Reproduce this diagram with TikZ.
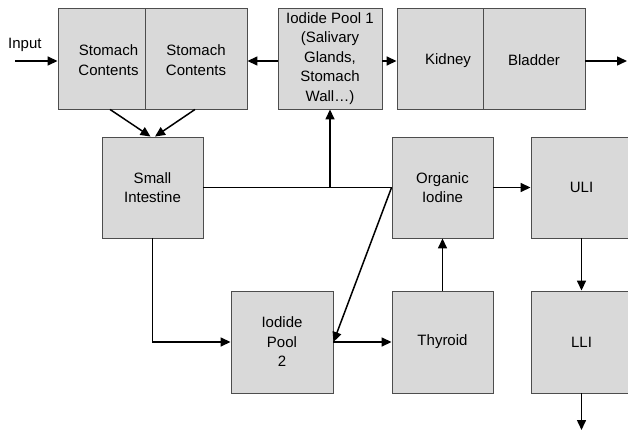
\documentclass[tikz,border=0pt]{standalone}
\usepackage{fontspec}
\setmainfont{Liberation Sans}
\usetikzlibrary{arrows.meta}
\definecolor{boxfill}{HTML}{D9D9D9}
\definecolor{boxline}{HTML}{4D4D4D}
\begin{document}
\begin{tikzpicture}[x=1pt,y=-1pt,
  box/.style 2 args={draw=boxline,fill=boxfill,line width=0.9pt,minimum width=#1,minimum height=#2,inner sep=0pt,align=center,font=\fontsize{15}{19.5}\selectfont},
  lbl/.style={font=\fontsize{15}{19.5}\selectfont,align=center,inner sep=0pt},
  arr/.style={line width=1.5pt,-{Triangle[length=10pt,width=9pt]}},
  ln/.style={line width=1.5pt}]
\useasboundingbox (0,0) rectangle (628,433);
% top row
\node[box={87pt}{101pt},label={[lbl,xshift=7pt,yshift=-1.5pt]center:Stomach\\Contents}] (sc1) at (101.5,58.5) {};
\node[box={102pt}{101pt},label={[lbl,yshift=-1.5pt]center:Stomach\\Contents}] (sc2) at (196,58.5) {};
\node[box={104pt}{101pt}] (ip1) at (330,58.5) {Iodide Pool 1\\(Salivary\\Glands,\\Stomach\\Wall…)};
\node[box={86pt}{101pt},label={[lbl,xshift=8pt,yshift=-2pt]center:Kidney}] (kid) at (440,58.5) {};
\node[box={102pt}{101pt},label={[lbl,yshift=-2pt]center:Bladder}] (bla) at (534,58.5) {};
% middle row
\node[box={101pt}{101pt}] (si) at (152.5,187.5) {Small\\Intestine};
\node[box={101pt}{101pt}] (oi) at (442.5,187.5) {Organic\\Iodine};
\node[box={101pt}{101pt}] (uli) at (581.5,187.5) {ULI};
% bottom row
\node[box={102pt}{102pt}] (ip2) at (282,342) {Iodide\\Pool\\2};
\node[box={101pt}{102pt}] (thy) at (442.5,342) {Thyroid};
\node[box={101pt}{102pt}] (lli) at (581.5,342) {LLI};
% input
\node[lbl,anchor=west] (inp) at (8,45) {Input};
\coordinate (inS) at (15,61);
\coordinate (outR) at (627,61);
\coordinate (outD) at (581.5,430);
\coordinate (j) at (330,187.5);
% connectors
\draw[arr] (inS) -- (sc1.west |- inS);
\draw[arr] ([yshift=-2.5pt]ip1.west) -- ([yshift=-2.5pt]sc2.east);
\draw[arr] ([yshift=-2.5pt]ip1.east) -- ([yshift=-2.5pt]kid.west);
\draw[arr] (bla.east |- outR) -- (outR);
\draw[arr] ([xshift=8.5pt]sc1.south) -- ([xshift=-2pt]si.north);
\draw[arr] ([xshift=-1pt]sc2.south) -- ([xshift=2.5pt]si.north);
\draw[ln] (si.east) -- (oi.west);
\draw[arr] (j) -- (ip1.south);
\draw[arr] (oi.west) -- (ip2.east);
\draw[arr] (si.south) -- (si.south |- ip2.west) -- (ip2.west);
\draw[arr] (ip2.east) -- (thy.west);
\draw[arr] (thy.north) -- (oi.south);
\draw[arr] (oi.east) -- (uli.west);
\draw[arr] (uli.south) -- (lli.north);
\draw[arr] (lli.south) -- (outD);
\end{tikzpicture}
\end{document}
